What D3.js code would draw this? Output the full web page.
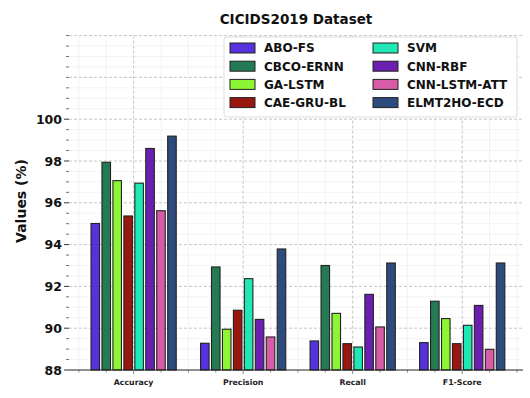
<!DOCTYPE html>
<html>
<head>
<meta charset="utf-8">
<script src="https://cdn.jsdelivr.net/npm/d3@7"></script>
<style>
  body { margin: 0; background: #fff; }
  svg { font-family: "DejaVu Sans", sans-serif; }
</style>
</head>
<body>
<svg id="chart" width="530" height="398"></svg>
<script>
// metrics on the x axis
var metrics = ["Accuracy", "Precision", "Recall", "F1-Score"];
// models (one bar each per metric)
var models = ["ABO-FS", "CBCO-ERNN", "GA-LSTM", "CAE-GRU-BL", "SVM", "CNN-RBF", "CNN-LSTM-ATT", "ELMT2HO-ECD"];
var colors = ["#5632dd", "#247b53", "#8cf534", "#9a170f", "#1fe8b4", "#6a1fb0", "#d65ca7", "#2e4b7d"];
// values per model, in metric order
var aboFs      = [95.01, 89.28, 89.39, 89.31];
var cbcoErnn   = [97.94, 92.93, 93.00, 91.29];
var gaLstm     = [97.06, 89.95, 90.71, 90.46];
var caeGruBl   = [95.37, 90.86, 89.26, 89.26];
var svm        = [96.94, 92.37, 89.10, 90.14];
var cnnRbf     = [98.60, 90.42, 91.62, 91.09];
var cnnLstmAtt = [95.62, 89.58, 90.06, 88.99];
var elmt2ho    = [99.19, 93.79, 93.12, 93.12];
var series = [aboFs, cbcoErnn, gaLstm, caeGruBl, svm, cnnRbf, cnnLstmAtt, elmt2ho];
var yTickLabels = [88, 90, 92, 94, 96, 98, 100];

var svg = d3.select("#chart");
//plot area (window.top is taken, so own names)
var plotLeft = 69, plotRight = 523, plotTop = 35.6, plotBottom = 370;

var x = d3.scaleLinear().domain([-0.59, 3.555]).range([plotLeft, plotRight]);
var y = d3.scaleLinear().domain([88, 104]).range([plotBottom, plotTop]);

//bar layout: step between bars and width, in category units
var barStep = 0.1;
var barWidth = 0.078;

var grid = svg.append("g");
//y grid every 0.5
d3.range(88.5, 104.01, 0.5).forEach(function (v) {
    var major = Math.abs(v % 2) < 1e-6;
    grid.append("line").attr("x1", plotLeft).attr("x2", plotRight).attr("y1", y(v)).attr("y2", y(v))
        .attr("stroke", major ? "#b8b8b8" : "#d8d8d8").attr("stroke-width", major ? 0.8 : 0.6)
        .attr("stroke-dasharray", major ? "3,2" : "1,1");
});
//x grid every quarter category
d3.range(-0.5, 3.51, 0.25).forEach(function (v) {
    var major = Math.abs(v - Math.round(v)) < 1e-6;
    grid.append("line").attr("x1", x(v)).attr("x2", x(v)).attr("y1", plotTop).attr("y2", plotBottom)
        .attr("stroke", major ? "#b8b8b8" : "#d8d8d8").attr("stroke-width", major ? 0.8 : 0.6)
        .attr("stroke-dasharray", major ? "3,2" : "1,1");
});

//bars
series.forEach(function (vals, i) {
    var off = (i - (models.length - 1) / 2) * barStep;
    svg.append("g").selectAll("rect").data(vals).enter().append("rect")
        .attr("x", function (d, j) { return x(j + off - barWidth / 2); })
        .attr("width", x(barWidth) - x(0))
        .attr("y", function (d) { return y(d); })
        .attr("height", function (d) { return y(88) - y(d); })
        .attr("fill", colors[i])
        .attr("stroke", "#222")
        .attr("stroke-width", 1.1);
});

//y axis ticks
var yAxis = svg.append("g");
d3.range(88, 104.01, 0.5).forEach(function (v) {
    var major = yTickLabels.indexOf(v) >= 0;
    yAxis.append("line").attr("x1", plotLeft - (major ? 5 : 3)).attr("x2", plotLeft).attr("y1", y(v)).attr("y2", y(v))
        .attr("stroke", "#333").attr("stroke-width", major ? 1 : 0.7);
});
yAxis.selectAll("text").data(yTickLabels).enter().append("text")
    .attr("x", plotLeft - 7).attr("y", function (d) { return y(d); })
    .attr("dy", "0.36em").attr("text-anchor", "end")
    .attr("font-size", 12.5).attr("font-weight", "bold").attr("fill", "#111")
    .text(function (d) { return d; });

//x axis
var xAxis = svg.append("g");
xAxis.append("line").attr("x1", plotLeft).attr("x2", plotRight).attr("y1", plotBottom).attr("y2", plotBottom)
    .attr("stroke", "#222").attr("stroke-width", 1);
d3.range(-0.5, 3.51, 0.25).forEach(function (v) {
    var major = Math.abs(v - Math.round(v)) < 1e-6;
    xAxis.append("line").attr("x1", x(v)).attr("x2", x(v)).attr("y1", plotBottom).attr("y2", plotBottom + (major ? 4 : 2.5))
        .attr("stroke", "#555").attr("stroke-width", 0.7);
});
xAxis.selectAll("text").data(metrics).enter().append("text")
    .attr("x", function (d, i) { return x(i); }).attr("y", plotBottom + 15)
    .attr("text-anchor", "middle").attr("font-size", 7.8).attr("font-weight", "bold").attr("fill", "#222")
    .text(function (d) { return d; });

//title + y label
svg.append("text").attr("x", (plotLeft + plotRight) / 2).attr("y", 24).attr("text-anchor", "middle")
    .attr("font-size", 13.5).attr("font-weight", "bold").attr("fill", "#111").text("CICIDS2019 Dataset");
svg.append("text").attr("transform", "translate(26,201) rotate(-90)")
    .attr("text-anchor", "middle").attr("font-size", 14).attr("font-weight", "bold").attr("fill", "#111")
    .text("Values (%)");

//legend
var legend = svg.append("g");
legend.append("rect").attr("x", 224).attr("y", 37).attr("width", 293).attr("height", 80).attr("rx", 3)
    .attr("fill", "#fff").attr("fill-opacity", 0.9).attr("stroke", "#ddd").attr("stroke-width", 1);
models.forEach(function (m, i) {
    var col = Math.floor(i / 4), row = i % 4;
    var lx = col === 0 ? 230 : 373;
    var ly = 48 + row * 18.2;
    legend.append("rect").attr("x", lx).attr("y", ly - 5).attr("width", 25).attr("height", 10)
        .attr("fill", colors[i]).attr("stroke", "#222").attr("stroke-width", 1);
    legend.append("text").attr("x", lx + 34).attr("y", ly).attr("dy", "0.36em")
        .attr("font-size", 12).attr("font-weight", "bold").attr("fill", "#111").text(m);
});
</script>
</body>
</html>
